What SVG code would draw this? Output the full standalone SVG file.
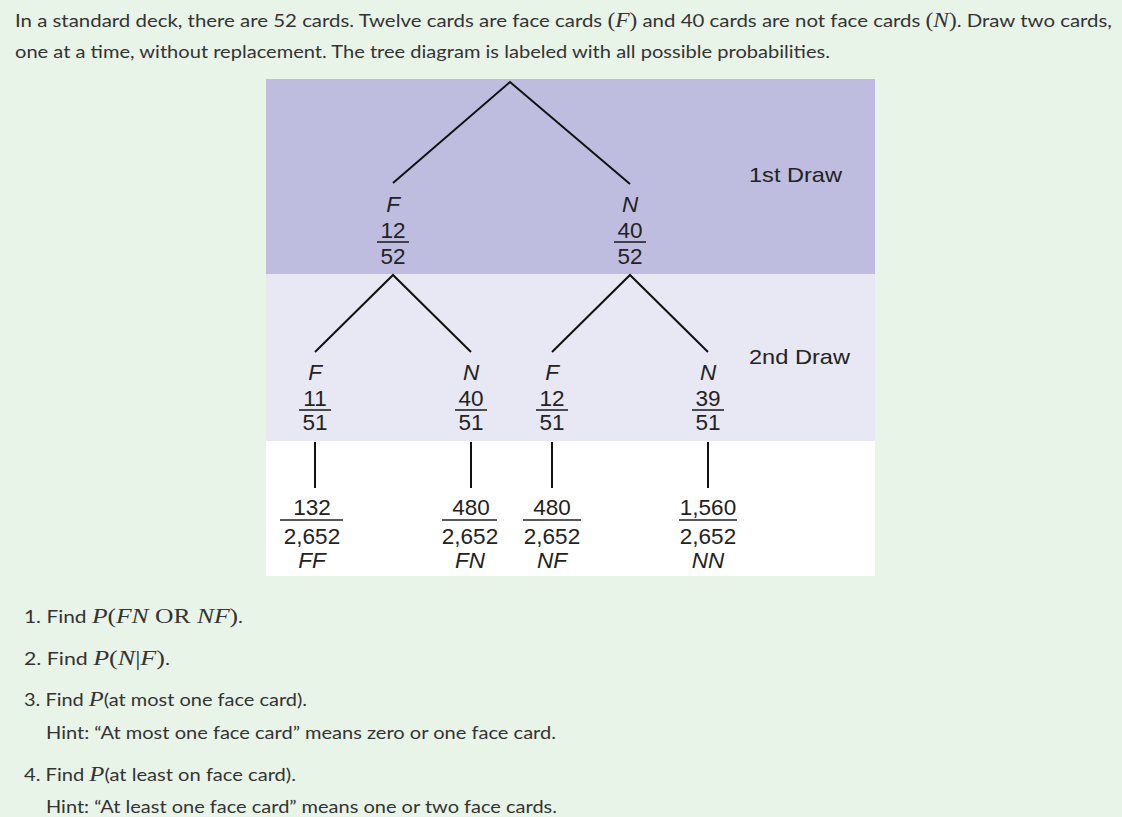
<svg xmlns="http://www.w3.org/2000/svg" width="1122" height="817" viewBox="0 0 1122 817">
<style>
.body{font-family:"Lato","Liberation Sans",sans-serif;font-size:17.5px;fill:#333}
.q{font-family:"Lato","Liberation Sans",sans-serif;font-size:18px;fill:#333}
.m{font-family:"Liberation Serif",serif;font-style:italic;font-size:20px}
.mu{font-family:"Liberation Serif",serif;font-style:normal;font-size:20px}
.mq{font-family:"Liberation Serif",serif;font-style:italic;font-size:22px}
.muq{font-family:"Liberation Serif",serif;font-style:normal;font-size:22px}
.t{font-family:"Liberation Sans",Arial,sans-serif;font-size:22.5px;fill:#222;text-anchor:middle}
.i{font-style:italic}
.lbl{font-family:"Liberation Sans",Arial,sans-serif;font-size:21px;fill:#222}
.ln{stroke:#111;stroke-width:2;fill:none}
.bar{stroke:#222;stroke-width:1.6}
</style>
<rect width="1122" height="817" fill="#e9f4e8"/>
<g id="intro" class="body">
<text x="15" y="27" textLength="1097" lengthAdjust="spacingAndGlyphs">In a standard deck, there are 52 cards. Twelve cards are face cards <tspan class="mu">(</tspan><tspan class="m">F</tspan><tspan class="mu">)</tspan> and 40 cards are not face cards <tspan class="mu">(</tspan><tspan class="m">N</tspan><tspan class="mu">)</tspan>. Draw two cards,</text>
<text x="15" y="58" textLength="815" lengthAdjust="spacingAndGlyphs">one at a time, without replacement. The tree diagram is labeled with all possible probabilities.</text>
</g>
<g id="panel">
<rect x="266" y="79" width="609" height="195" fill="#bebde0"/>
<rect x="266" y="274" width="609" height="167" fill="#e8e7f4"/>
<rect x="266" y="441" width="609" height="135" fill="#ffffff"/>
</g>
<g id="connectors" class="ln">
<polyline points="393,183 510,82 630,184"/>
<polyline points="315,352 393,275 471,352"/>
<polyline points="552,352 630,275 708,352"/>
<line x1="315" y1="442" x2="315" y2="488"/>
<line x1="471" y1="442" x2="471" y2="488"/>
<line x1="552" y1="442" x2="552" y2="488"/>
<line x1="708" y1="442" x2="708" y2="488"/>
</g>
<g id="label-1st" class="lbl"><text x="749" y="182" textLength="93" lengthAdjust="spacingAndGlyphs">1st Draw</text></g>
<g id="label-2nd" class="lbl"><text x="749" y="364" textLength="101" lengthAdjust="spacingAndGlyphs">2nd Draw</text></g>
<g id="node-F1" class="t">
<text x="393" y="212" class="i">F</text>
<text x="393" y="238">12</text>
<line class="bar" x1="377" y1="242" x2="409" y2="242"/>
<text x="393" y="264">52</text>
</g>
<g id="node-N1" class="t">
<text x="630" y="212" class="i">N</text>
<text x="630" y="238">40</text>
<line class="bar" x1="614" y1="242" x2="646" y2="242"/>
<text x="630" y="264">52</text>
</g>
<g id="node-FF" class="t">
<text x="315" y="380" class="i">F</text>
<text x="315" y="406">11</text>
<line class="bar" x1="299" y1="410" x2="331" y2="410"/>
<text x="315" y="430">51</text>
</g>
<g id="node-FN" class="t">
<text x="471" y="380" class="i">N</text>
<text x="471" y="406">40</text>
<line class="bar" x1="455" y1="410" x2="487" y2="410"/>
<text x="471" y="430">51</text>
</g>
<g id="node-NF" class="t">
<text x="552" y="380" class="i">F</text>
<text x="552" y="406">12</text>
<line class="bar" x1="536" y1="410" x2="568" y2="410"/>
<text x="552" y="430">51</text>
</g>
<g id="node-NN" class="t">
<text x="708" y="380" class="i">N</text>
<text x="708" y="406">39</text>
<line class="bar" x1="692" y1="410" x2="724" y2="410"/>
<text x="708" y="430">51</text>
</g>
<g id="result-FF" class="t">
<text x="312" y="515">132</text>
<line class="bar" x1="280" y1="520" x2="343" y2="520"/>
<text x="312" y="544">2,652</text>
<text x="312" y="568" class="i">FF</text>
</g>
<g id="result-FN" class="t">
<text x="471" y="515">480</text>
<line class="bar" x1="442" y1="520" x2="497" y2="520"/>
<text x="470" y="544">2,652</text>
<text x="470" y="568" class="i">FN</text>
</g>
<g id="result-NF" class="t">
<text x="552" y="515">480</text>
<line class="bar" x1="523" y1="520" x2="581" y2="520"/>
<text x="552" y="544">2,652</text>
<text x="552" y="568" class="i">NF</text>
</g>
<g id="result-NN" class="t">
<text x="708" y="515">1,560</text>
<line class="bar" x1="679" y1="520" x2="737" y2="520"/>
<text x="708" y="544">2,652</text>
<text x="708" y="568" class="i">NN</text>
</g>
<g id="questions" class="q">
<text x="24" y="623" textLength="219" lengthAdjust="spacingAndGlyphs">1. Find <tspan class="mq">P</tspan><tspan class="muq">(</tspan><tspan class="mq">FN</tspan><tspan class="muq"> OR </tspan><tspan class="mq">NF</tspan><tspan class="muq">)</tspan>.</text>
<text x="24" y="665" textLength="146" lengthAdjust="spacingAndGlyphs">2. Find <tspan class="mq">P</tspan><tspan class="muq">(</tspan><tspan class="mq">N</tspan><tspan class="muq">|</tspan><tspan class="mq">F</tspan><tspan class="muq">)</tspan>.</text>
<text x="24" y="706" textLength="283" lengthAdjust="spacingAndGlyphs">3. Find <tspan class="mq">P</tspan>(at most one face card).</text>
<text x="46" y="739" textLength="510" lengthAdjust="spacingAndGlyphs">Hint: “At most one face card” means zero or one face card.</text>
<text x="24" y="781" textLength="272" lengthAdjust="spacingAndGlyphs">4. Find <tspan class="mq">P</tspan>(at least on face card).</text>
<text x="46" y="813" textLength="511" lengthAdjust="spacingAndGlyphs">Hint: “At least one face card” means one or two face cards.</text>
</g>
</svg>
